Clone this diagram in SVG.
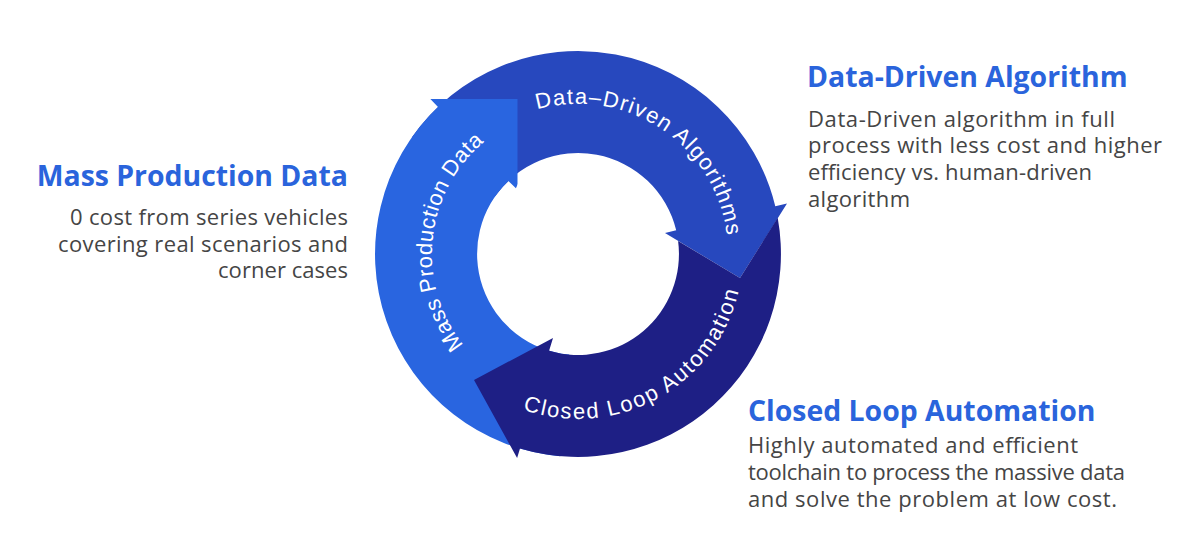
<svg xmlns="http://www.w3.org/2000/svg" width="1200" height="541" viewBox="0 0 1200 541">
  <style>
    .ring { font-family: "Liberation Sans", Arial, sans-serif; font-size: 22px; fill: #ffffff; }
    .head { font-family: "Open Sans", "Noto Sans", sans-serif; font-weight: 700; font-size: 28.4px; fill: #2A64DC; }
    .body { font-family: "Open Sans", "Noto Sans", sans-serif; font-size: 22px; fill: #454545; }
  </style>
  <defs>
    <clipPath id="lightClip">
      <path d="M0,99 H517.5 V260 H1200 V541 H0 Z"/>
    </clipPath>
    <path id="tpData" d="M461.0,160.1 A150,150 0 0 1 709.5,326.2"/>
    <path id="tpMass" d="M550.5,397.4 A146,146 0 0 1 580.2,108.0"/>
    <path id="tpClosed" d="M441.2,346.3 A165,165 0 0 0 728.7,186.9"/>
  </defs>
  <rect width="1200" height="541" fill="#ffffff"/>

  <g id="connectors">
    <path id="arrow-data-driven" fill="#2748BE" d="M411.7,137.6 A203,203 0 0 1 775.3,206.3 L787.0,203.5 L740,278 L665.0,233.0 L676.2,230.3 A101,101 0 0 0 495.3,196.1 Z"/>
    <path id="arrow-mass-production" fill="#2965E0" clip-path="url(#lightClip)" d="M560.3,456.2 A203,203 0 0 1 438.0,107.0 L429.7,98.3 L563.6,89.6 L515.9,188.2 L508.4,180.9 A101,101 0 0 0 569.2,354.6 Z"/>
    <path id="arrow-closed-loop" fill="#1E1F85" d="M777.7,217.8 L740,278 L678.1,240.9 A101,101 0 0 1 549.1,350.8 L553.0,337.9 L474,380 L517.1,458.1 L520.0,448.5 A203,203 0 0 0 777.7,217.8 Z"/>
  </g>

  <g id="node-ring-labels">
    <text class="ring" letter-spacing="1.3"><textPath href="#tpData" startOffset="50%" text-anchor="middle">Data–Driven Algorithms</textPath></text>
    <text class="ring" letter-spacing="0.5"><textPath href="#tpMass" startOffset="50%" text-anchor="middle">Mass Production Data</textPath></text>
    <text class="ring" font-size="21" letter-spacing="1.8"><textPath href="#tpClosed" startOffset="50%" text-anchor="middle">Closed Loop Automation</textPath></text>
  </g>

  <g id="node-mass-production">
    <text class="head" x="348" y="186" text-anchor="end">Mass Production Data</text>
    <text class="body">
      <tspan x="70" y="225" textLength="278" lengthAdjust="spacing">0 cost from series vehicles</tspan>
      <tspan x="58" y="252" textLength="290" lengthAdjust="spacing">covering real scenarios and</tspan>
      <tspan x="218" y="278" textLength="130" lengthAdjust="spacing">corner cases</tspan>
    </text>
  </g>

  <g id="node-data-driven">
    <text class="head" x="807" y="87">Data-Driven Algorithm</text>
    <text class="body">
      <tspan x="808" y="127" textLength="307" lengthAdjust="spacing">Data-Driven algorithm in full</tspan>
      <tspan x="808" y="153" textLength="354" lengthAdjust="spacing">process with less cost and higher</tspan>
      <tspan x="808" y="180" textLength="284" lengthAdjust="spacing">efficiency vs. human-driven</tspan>
      <tspan x="808" y="207" textLength="102" lengthAdjust="spacing">algorithm</tspan>
    </text>
  </g>

  <g id="node-closed-loop">
    <text class="head" x="748" y="421">Closed Loop Automation</text>
    <text class="body">
      <tspan x="748" y="453" textLength="330" lengthAdjust="spacing">Highly automated and efficient</tspan>
      <tspan x="748" y="480" textLength="377" lengthAdjust="spacing">toolchain to process the massive data</tspan>
      <tspan x="748" y="507" textLength="369" lengthAdjust="spacing">and solve the problem at low cost.</tspan>
    </text>
  </g>
</svg>
